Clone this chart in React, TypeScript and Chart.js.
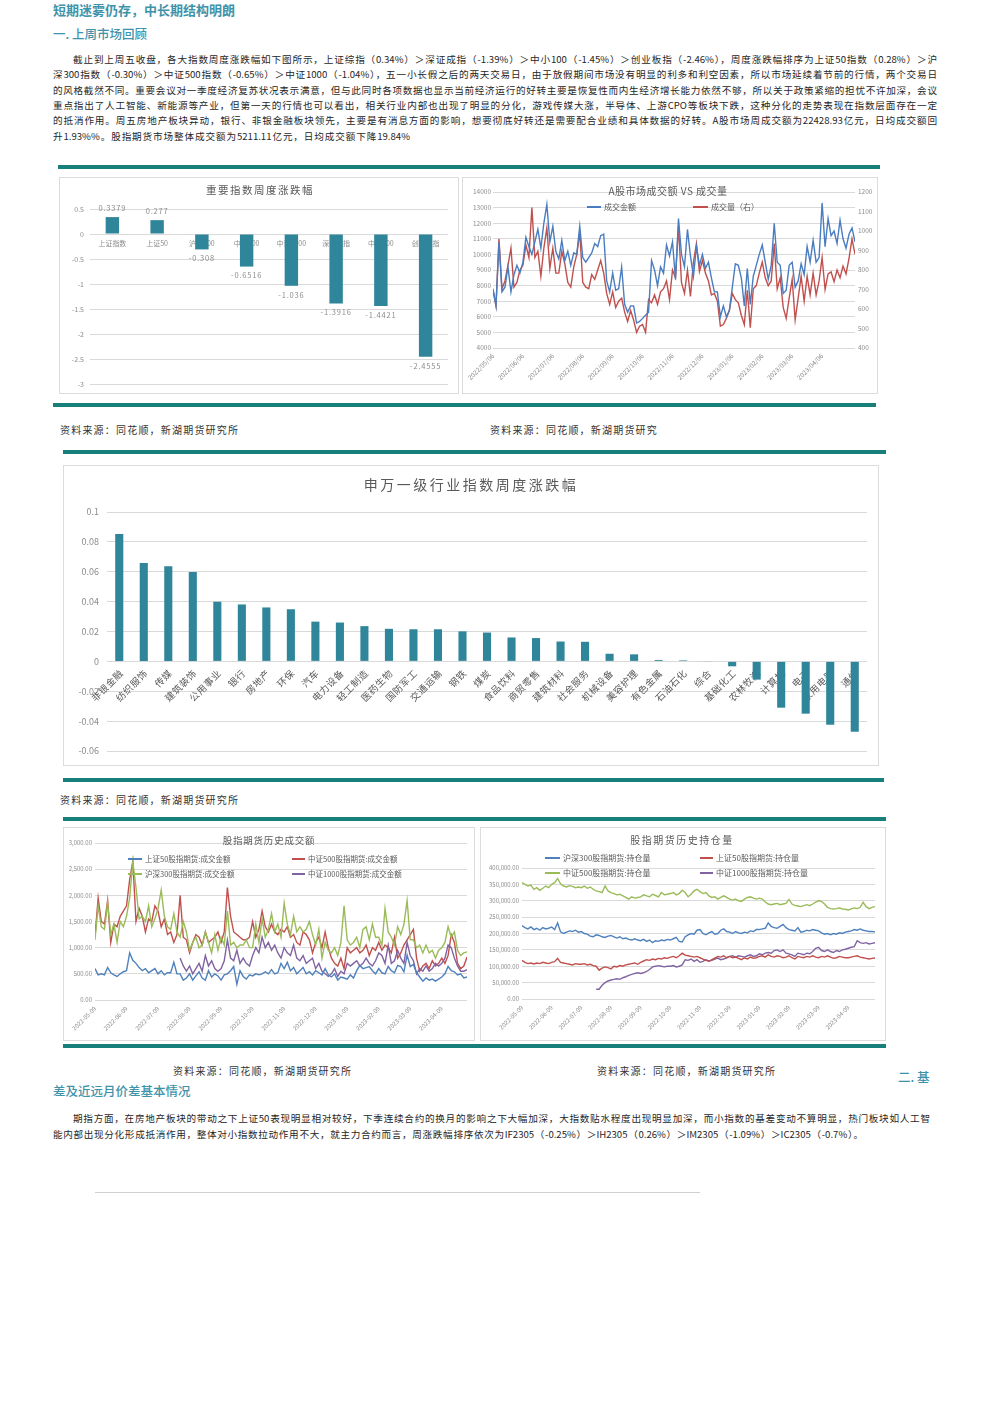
import React, { useEffect, useRef } from 'react';
import { Chart, registerables } from 'chart.js';
Chart.register(...registerables);

const FONT = '"Noto Sans CJK SC", "Noto Sans", sans-serif';
const TEAL = '#17807b';
const HEAD = '#3e93aa';
const BAR = '#2f8599';
const GRID = '#d9d9d9';
const TICK = '#8c8c8c';
const LAB = '#595959';

// ---------- Chart 1: 重要指数周度涨跌幅 ----------
const idxCats = ['上证指数', '上证50', '沪深300', '中证500', '中证1000', '深证成指', '中小100', '创业板指'];
const idxVals = [0.3379, 0.277, -0.308, -0.6516, -1.036, -1.3916, -1.4421, -2.4555];

// ---------- Chart 2: A股市场成交额 VS 成交量 ----------
const aTickLabels = ['2022/05/06', '2022/06/06', '2022/07/06', '2022/08/06', '2022/09/06', '2022/10/06', '2022/11/06', '2022/12/06', '2023/01/06', '2023/02/06', '2023/03/06', '2023/04/06'];
const aTickPos = [0, 10, 20, 30, 40, 50, 60, 70, 80, 90, 100, 110];
const aAmount = [
  7800, 6700, 10800, 7600, 7900, 9200, 7600, 8700, 9300, 8800,
  9500, 11100, 10500, 10000, 10800, 11600, 10400, 12000, 13200, 10800,
  11800, 10200, 9700, 10900, 9600, 10200, 9300, 10100, 10000, 11800,
  9800, 9500, 9800, 10100, 10700, 10500, 11200, 11300, 8300, 7600,
  8800, 7700, 7800, 9200, 6800, 6300, 6700, 6700, 5600, 5700,
  5900, 6100, 6300, 9600, 9000, 8000, 9200, 8800, 10600, 9900,
  10800, 8400, 12300, 10000, 9200, 11600, 9900, 8600, 10500, 9300,
  10000, 9100, 9500, 8500, 7600, 7600, 6000, 6700, 6000, 6400,
  7900, 9400, 9300, 8500, 6700, 9100, 6800, 8600, 9300, 10000,
  10600, 9500, 8400, 9300, 12000, 9500, 9300, 7500, 7700, 9300,
  9500, 7900, 8300, 9400, 8700, 10500, 9500, 10900, 9500, 9800,
  13300, 10500, 12300, 11200, 11500, 10700, 12200, 11000, 10400, 11300,
  11700, 10800,
];
const aVolume = [
  696, 616, 960, 704, 744, 824, 912, 712, 736, 800,
  824, 928, 864, 1120, 864, 896, 768, 912, 1016, 808,
  912, 784, 784, 896, 832, 736, 712, 816, 880, 992,
  736, 712, 704, 776, 752, 800, 848, 784, 680, 624,
  688, 608, 640, 656, 584, 536, 592, 544, 480, 512,
  520, 480, 648, 632, 672, 624, 688, 704, 744, 648,
  800, 760, 1024, 736, 680, 800, 664, 840, 936, 792,
  848, 784, 744, 672, 680, 640, 512, 520, 552, 592,
  680, 648, 632, 568, 520, 696, 504, 704, 720, 784,
  840, 760, 720, 744, 936, 704, 760, 608, 552, 656,
  752, 544, 656, 768, 640, 768, 672, 784, 672, 744,
  864, 700, 780, 790, 740, 800, 760, 820, 780, 860,
  960, 880,
];

// ---------- Chart 3: 申万一级行业指数周度涨跌幅 ----------
const swCats = ['非银金融', '纺织服饰', '传媒', '建筑装饰', '公用事业', '银行', '房地产', '环保', '汽车', '电力设备', '轻工制造', '医药生物', '国防军工', '交通运输', '钢铁', '煤炭', '食品饮料', '商贸零售', '建筑材料', '社会服务', '机械设备', '美容护理', '有色金属', '石油石化', '综合', '基础化工', '农林牧渔', '计算机', '电子', '家用电器', '通信'];
const swVals = [0.0853, 0.0659, 0.0637, 0.0599, 0.0399, 0.0381, 0.0361, 0.0349, 0.0266, 0.026, 0.0236, 0.0218, 0.0215, 0.0215, 0.0201, 0.0193, 0.016, 0.0156, 0.0133, 0.0131, 0.0051, 0.0047, 0.0009, 0.0007, -0.0004, -0.0033, -0.0122, -0.031, -0.035, -0.0424, -0.0471];

// ---------- Chart 4: 股指期货历史成交额 ----------
const fTickLabels = ['2022-05-09', '2022-06-09', '2022-07-09', '2022-08-09', '2022-09-09', '2022-10-09', '2022-11-09', '2022-12-09', '2023-01-09', '2023-02-09', '2023-03-09', '2023-04-09'];
const fTickPos = [0, 10, 20, 30, 40, 50, 60, 70, 80, 90, 100, 110];
const amtIH = [
  600, 480, 500, 480, 620, 520, 480, 450, 500, 540,
  560, 900, 760, 700, 620, 560, 600, 520, 560, 600,
  500, 560, 480, 520, 520, 720, 500, 500, 380, 420,
  500, 380, 460, 540, 420, 380, 560, 440, 500, 460,
  380, 480, 500, 560, 640, 300, 560, 450, 400, 480,
  460, 500, 480, 500, 540, 500, 580, 500, 520, 700,
  600, 720, 560, 620, 500, 560, 620, 500, 540, 480,
  560, 520, 480, 600, 480, 440, 500, 380, 440, 420,
  400, 480, 420, 560, 660, 600, 620, 640, 560, 500,
  600, 520, 500, 640, 560, 520, 660, 640, 540, 860,
  640, 680, 520, 440, 360, 420, 380, 400, 360, 400,
  440, 500, 640, 560, 540, 480, 500, 420, 440,
];
const amtIC = [
  1220, 1950, 1500, 1450, 1900, 1100, 1450, 1400, 1600, 1700,
  1800, 2300, 2650, 1500, 1750, 1600, 1300, 1550, 1500, 1800,
  1700, 1400, 1550, 1250, 1300, 1100, 1250, 2000, 1200, 1150,
  900, 1100, 1250, 1200, 1050, 1300, 1100, 1150, 1200, 1300,
  1100, 1300, 2150, 1600, 1300, 1250, 1200, 1150, 1150, 1200,
  1500, 1200, 1350, 1700, 1400, 1300, 1450, 1300, 1250, 1350,
  1300, 1400, 1200, 1250, 1100, 1050, 1300, 1250, 1150, 900,
  1100, 1200, 1000, 1300, 1000, 800, 700, 650, 800, 600,
  1000, 900, 950, 1000, 900, 950, 1050, 850, 1000, 950,
  1100, 950, 1050, 1000, 900, 1200, 800, 900, 1050, 1150,
  1250, 1350, 800, 550, 650, 700, 600, 750, 650, 700,
  800, 700, 850, 1250, 1100, 700, 600, 650, 820,
];
const amtIF = [
  1150, 1800, 1400, 1350, 1850, 1250, 1450, 1100, 1500, 1400,
  1600, 1950, 2650, 2150, 1550, 1600, 1500, 1800, 1400, 1550,
  1750, 2100, 1600, 1400, 1350, 1650, 1300, 1200, 1500, 1300,
  950, 1100, 1200, 1000, 1050, 1300, 1100, 900, 1250, 950,
  1200, 1050, 1700, 1050, 1100, 1000, 1050, 1050, 1150, 1000,
  1000, 1450, 1100, 1550, 1200, 1350, 1650, 1300, 1450, 1200,
  1850, 1450, 1250, 1600, 1300, 1400, 1300, 1350, 1500, 1250,
  1050, 1350, 800, 1100, 950, 900, 1000, 850, 1100, 1800,
  1150, 1050, 1100, 1200, 1000, 1350, 1400, 1150, 1450, 1200,
  1200, 1050, 1750, 1300, 1200, 1050, 1400, 1250, 1450, 1900,
  1150, 1150, 1000, 1050, 900, 1050, 900, 950, 800, 950,
  1000, 1100, 1400, 1200, 1300, 950, 850, 900, 920,
];
const amtIM = [
  null, null, null, null, null, null, null, null, null, null,
  null, null, null, null, null, null, null, null, null, null,
  null, null, null, null, null, null, null, 800, 650, 550,
  650, 500, 600, 700, 550, 850, 650, 750, 600, 550,
  600, 750, 1150, 800, 750, 950, 700, 800, 700, 650,
  850, 1000, 900, 1200, 1000, 1100, 950, 1050, 900, 800,
  1000, 900, 850, 1050, 800, 750, 850, 700, 750, 800,
  600, 700, 550, 500, 450, 500, 600, 450, 550, 500,
  700, 650, 700, 750, 650, 700, 800, 700, 650, 750,
  900, 850, 700, 1050, 700, 750, 950, 800, 700, 1100,
  850, 750, 500, 600, 550, 650, 550, 600, 700, 650,
  700, 800, 1050, 1000, 800, 650, 550, 550, 580,
];

// ---------- Chart 5: 股指期货历史持仓量 (千手) ----------
const oiIF = [
  224, 218, 214, 220, 212, 216, 210, 218, 214, 216,
  220, 212, 232, 205, 200, 204, 208, 206, 210, 204,
  206, 200, 198, 192, 190, 196, 194, 190, 188, 192,
  194, 190, 186, 190, 184, 186, 182, 180, 184, 180,
  178, 182, 176, 180, 172, 178, 176, 180, 178, 182,
  180, 184, 188, 176, 174, 190, 196, 200, 198, 210,
  212, 200, 196, 202, 206, 198, 200, 210, 214, 206,
  204, 200, 206, 202, 200, 204, 202, 208, 206, 212,
  212, 214, 216, 232, 222, 218, 216, 222, 228, 218,
  212, 210, 208, 218, 204, 206, 210, 208, 212, 210,
  208, 202, 198, 200, 196, 200, 198, 202, 200, 204,
  206, 208, 212, 210, 214, 210, 208, 206, 206, 205,
];
const oiIH = [
  118, 112, 108, 110, 107, 110, 108, 112, 110, 108,
  112, 114, 124, 112, 110, 108, 106, 104, 108, 106,
  106, 108, 104, 106, 102, 100, 88, 94, 98, 96,
  92, 100, 98, 102, 100, 104, 106, 108, 110, 106,
  112, 116, 120, 118, 122, 120, 124, 122, 126, 124,
  128, 130, 126, 132, 140, 134, 132, 130, 128, 130,
  126, 122, 118, 115, 120, 125, 130, 128, 132, 126,
  130, 126, 128, 124, 120, 126, 122, 128, 124, 126,
  130, 132, 128, 135, 130, 128, 132, 130, 126, 128,
  132, 126, 122, 130, 128, 126, 130, 128, 132, 128,
  126, 130, 128, 132, 128, 124, 126, 130, 128, 126,
  126, 128, 130, 132, 128, 126, 124, 122, 124, 125,
];
const oiIC = [
  355, 350, 345, 348, 335, 340, 332, 338, 345, 340,
  350, 355, 368, 352, 345, 342, 346, 344, 340, 342,
  340, 345, 338, 342, 335, 330, 328, 325, 345, 330,
  325, 322, 318, 320, 315, 310, 305, 312, 308, 310,
  312, 318, 315, 312, 320, 316, 312, 325, 318, 320,
  322, 325, 318, 322, 332, 325, 312, 320, 330, 335,
  328, 322, 325, 315, 310, 312, 305, 310, 315, 310,
  305, 302, 305, 300, 298, 305, 310, 312, 308, 305,
  308, 305, 296, 290, 288, 290, 292, 288, 290, 292,
  304, 290, 286, 284, 282, 285, 288, 285, 290, 296,
  300, 298, 290, 280, 276, 275, 276, 278, 275, 274,
  272, 275, 278, 276, 280, 295, 282, 276, 280, 282,
];
const oiIM = [
  null, null, null, null, null, null, null, null, null, null,
  null, null, null, null, null, null, null, null, null, null,
  null, null, null, null, null, 30, 30, 42, 50, 55,
  58, 60, 62, 60, 65, 68, 72, 75, 78, 80,
  78, 80, 84, 90, 98, 100, 102, 100, 98, 100,
  100, 102, 98, 100, 104, 120, 118, 122, 115, 120,
  112, 115, 120, 116, 118, 122, 125, 120, 122, 126,
  130, 132, 128, 132, 130, 128, 132, 135, 130, 132,
  138, 135, 140, 142, 140, 148, 150, 145, 150, 140,
  138, 135, 130, 140, 138, 135, 140, 138, 145, 155,
  158, 148, 145, 150, 145, 142, 148, 145, 150, 152,
  155, 158, 160, 178, 172, 170, 172, 168, 170, 172,
];

// ---------- helpers ----------
const cleanNum = (v: any) => String(+Number(v).toFixed(4));
const fmt2 = (v: number) => v.toLocaleString('en-US', { minimumFractionDigits: 2, maximumFractionDigits: 2 });
const pts = (arr: (number | null)[]) => arr.map((v, i) => ({ x: i, y: v }));

type TItem = { text: string; x: number; y: number; size: number; color?: string; spacing?: number; align?: CanvasTextAlign };
type LItem = { text: string; color: string; x1: number; x2: number; y: number; size: number };

function overlayPlugin(titles: TItem[], legends: LItem[]) {
  return {
    id: 'overlay',
    afterDraw(chart: any) {
      const ctx = chart.ctx as CanvasRenderingContext2D;
      ctx.save();
      ctx.textBaseline = 'middle';
      for (const t of titles) {
        ctx.font = `${t.size}px ${FONT}`;
        (ctx as any).letterSpacing = `${t.spacing ?? 0}px`;
        ctx.fillStyle = t.color ?? LAB;
        ctx.textAlign = t.align ?? 'center';
        ctx.fillText(t.text, t.x, t.y);
      }
      (ctx as any).letterSpacing = '0px';
      for (const l of legends) {
        ctx.strokeStyle = l.color;
        ctx.lineWidth = 2;
        ctx.beginPath();
        ctx.moveTo(l.x1, l.y);
        ctx.lineTo(l.x2, l.y);
        ctx.stroke();
        ctx.font = `${l.size}px ${FONT}`;
        ctx.fillStyle = LAB;
        ctx.textAlign = 'left';
        ctx.fillText(l.text, l.x2 + 3, l.y);
      }
      ctx.restore();
    },
  };
}

function timeXAxis(tickPos: number[], tickLabels: string[], n: number, height: number, size: number, pad: number) {
  return {
    type: 'linear',
    min: 0,
    max: n - 1,
    afterBuildTicks: (s: any) => { s.ticks = tickPos.map((v) => ({ value: v })); },
    ticks: {
      autoSkip: false, maxRotation: 45, minRotation: 45, padding: pad,
      color: TICK, font: { size, family: FONT },
      callback: (v: any) => { const k = tickPos.indexOf(v); return k >= 0 ? tickLabels[k] : ''; },
    },
    grid: { display: false, drawTicks: false },
    border: { display: false },
    afterFit: (s: any) => { s.height = height; s.paddingLeft = 0; s.paddingRight = 0; },
  };
}

function yAxis(min: number, max: number, step: number, width: number, pad: number, size: number, cb: (v: any) => string, extra: any = {}) {
  return {
    min, max,
    ticks: { stepSize: step, padding: pad, color: TICK, font: { size, family: FONT }, callback: cb },
    grid: { color: GRID, drawTicks: false },
    border: { display: false },
    afterFit: (s: any) => { s.width = width; s.paddingTop = 0; s.paddingBottom = 0; },
    ...extra,
  };
}

const base = { responsive: false, animation: false, devicePixelRatio: 1 };

// ---------- chart configs ----------
function makeIdx() {
  const catPlugin = {
    id: 'idxLabels',
    beforeDatasetsDraw(chart: any) {
      const { ctx } = chart; const xs = chart.scales.x; const ys = chart.scales.y;
      const y0 = ys.getPixelForValue(0);
      ctx.save();
      ctx.font = `7px ${FONT}`; ctx.fillStyle = TICK; ctx.textAlign = 'center'; ctx.textBaseline = 'middle';
      idxCats.forEach((c, i) => ctx.fillText(c, xs.getPixelForValue(i), y0 + 9));
      ctx.restore();
    },
    afterDatasetsDraw(chart: any) {
      const { ctx } = chart; const meta = chart.getDatasetMeta(0);
      ctx.save();
      ctx.font = `7.5px ${FONT}`; ctx.fillStyle = TICK; ctx.textAlign = 'center'; ctx.textBaseline = 'middle';
      (ctx as any).letterSpacing = '0.8px';
      meta.data.forEach((bar: any, i: number) => {
        const v = idxVals[i];
        ctx.fillText(String(v), bar.x, v >= 0 ? bar.y - 9 : bar.y + 9);
      });
      ctx.restore();
    },
  };
  return {
    type: 'bar',
    data: { labels: idxCats, datasets: [{ data: idxVals, backgroundColor: BAR, barPercentage: 0.3, categoryPercentage: 1 }] },
    options: {
      ...base,
      layout: { padding: { left: 0, right: 11, top: 32, bottom: 10 } },
      plugins: { legend: { display: false }, tooltip: { enabled: false } },
      scales: {
        x: { display: false },
        y: yAxis(-3, 0.5, 0.5, 31, 6, 7, cleanNum),
      },
    },
    plugins: [catPlugin, overlayPlugin([{ text: '重要指数周度涨跌幅', x: 201, y: 13, size: 10.5, spacing: 1.5 }], [])],
  };
}

function makeAshare() {
  return {
    type: 'line',
    data: {
      datasets: [
        { label: '成交金额', data: pts(aAmount), borderColor: '#4a7dc0', borderWidth: 1.4, pointRadius: 0, tension: 0, yAxisID: 'y' },
        { label: '成交量（右）', data: pts(aVolume), borderColor: '#c0504d', borderWidth: 1.4, pointRadius: 0, tension: 0, yAxisID: 'y1' },
      ],
    },
    options: {
      ...base,
      layout: { padding: { left: 0, right: 0, top: 15, bottom: 2 } },
      plugins: { legend: { display: false }, tooltip: { enabled: false } },
      scales: {
        x: timeXAxis(aTickPos, aTickLabels, aAmount.length, 44, 6.5, 4),
        y: yAxis(4000, 14000, 1000, 31, 2, 6.5, (v) => String(v), { position: 'left' }),
        y1: yAxis(400, 1200, 100, 23, 3, 6.5, (v) => String(v), { position: 'right', grid: { display: false, drawTicks: false } }),
      },
    },
    plugins: [overlayPlugin(
      [{ text: 'A股市场成交额 VS 成交量', x: 206, y: 14, size: 10, spacing: 0.5 }],
      [
        { text: '成交金额', color: '#4a7dc0', x1: 125, x2: 139, y: 30, size: 8 },
        { text: '成交量（右）', color: '#c0504d', x1: 231, x2: 246, y: 30, size: 8 },
      ],
    )],
  };
}

function makeSw() {
  const catPlugin = {
    id: 'swLabels',
    beforeDatasetsDraw(chart: any) {
      const { ctx } = chart; const xs = chart.scales.x; const ys = chart.scales.y;
      const y0 = ys.getPixelForValue(0);
      ctx.save();
      ctx.font = `9.5px ${FONT}`; ctx.fillStyle = LAB; ctx.textAlign = 'right'; ctx.textBaseline = 'middle';
      (ctx as any).letterSpacing = '0.5px';
      swCats.forEach((c, i) => {
        ctx.save();
        ctx.translate(xs.getPixelForValue(i) + 2, y0 + 10);
        ctx.rotate(-Math.PI / 4);
        ctx.fillText(c, 0, 0);
        ctx.restore();
      });
      ctx.restore();
    },
  };
  return {
    type: 'bar',
    data: { labels: swCats, datasets: [{ data: swVals, backgroundColor: BAR, barPercentage: 0.33, categoryPercentage: 1 }] },
    options: {
      ...base,
      layout: { padding: { left: 0, right: 12, top: 47, bottom: 15 } },
      plugins: { legend: { display: false }, tooltip: { enabled: false } },
      scales: {
        x: { display: false },
        y: yAxis(-0.06, 0.1, 0.02, 44, 8, 9, cleanNum),
      },
    },
    plugins: [catPlugin, overlayPlugin([{ text: '申万一级行业指数周度涨跌幅', x: 408, y: 20, size: 14, spacing: 2.5 }], [])],
  };
}

const C_BLUE = '#4f81bd', C_RED = '#c0504d', C_GREEN = '#9bbb59', C_PURPLE = '#8064a2';
const lineDs = (label: string, arr: (number | null)[], color: string) => ({ label, data: pts(arr), borderColor: color, borderWidth: 1.4, pointRadius: 0, tension: 0, spanGaps: false });

function makeAmt() {
  return {
    type: 'line',
    data: {
      datasets: [
        lineDs('上证50股指期货:成交金额', amtIH, C_BLUE),
        lineDs('中证1000股指期货:成交金额', amtIM, C_PURPLE),
        lineDs('沪深300股指期货:成交金额', amtIF, C_GREEN),
        lineDs('中证500股指期货:成交金额', amtIC, C_RED),
      ],
    },
    options: {
      ...base,
      layout: { padding: { left: 0, right: 8, top: 16, bottom: 2 } },
      plugins: { legend: { display: false }, tooltip: { enabled: false } },
      scales: {
        x: timeXAxis(fTickPos, fTickLabels, amtIH.length, 39, 6, 5),
        y: yAxis(0, 3000, 500, 32, 3, 6, (v) => fmt2(v)),
      },
    },
    plugins: [overlayPlugin(
      [{ text: '股指期货历史成交额', x: 206, y: 13, size: 9.5, spacing: 0.8 }],
      [
        { text: '上证50股指期货:成交金额', color: C_BLUE, x1: 65, x2: 79, y: 32, size: 7.5 },
        { text: '中证500股指期货:成交金额', color: C_RED, x1: 229, x2: 242, y: 32, size: 7.5 },
        { text: '沪深300股指期货:成交金额', color: C_GREEN, x1: 65, x2: 79, y: 47, size: 7.5 },
        { text: '中证1000股指期货:成交金额', color: C_PURPLE, x1: 229, x2: 242, y: 47, size: 7.5 },
      ],
    )],
  };
}

function makeOi() {
  return {
    type: 'line',
    data: {
      datasets: [
        lineDs('沪深300股指期货:持仓量', oiIF, C_BLUE),
        lineDs('上证50股指期货:持仓量', oiIH, C_RED),
        lineDs('中证500股指期货:持仓量', oiIC, C_GREEN),
        lineDs('中证1000股指期货:持仓量', oiIM, C_PURPLE),
      ],
    },
    options: {
      ...base,
      layout: { padding: { left: 0, right: 11, top: 41, bottom: 2 } },
      plugins: { legend: { display: false }, tooltip: { enabled: false } },
      scales: {
        x: timeXAxis(fTickPos, fTickLabels, oiIF.length, 40, 6, 5),
        y: yAxis(0, 400, 50, 42, 3, 6, (v) => fmt2(v * 1000)),
      },
    },
    plugins: [overlayPlugin(
      [{ text: '股指期货历史持仓量', x: 202, y: 13, size: 10, spacing: 1.5 }],
      [
        { text: '沪深300股指期货:持仓量', color: C_BLUE, x1: 65, x2: 80, y: 31, size: 8 },
        { text: '上证50股指期货:持仓量', color: C_RED, x1: 220, x2: 233, y: 31, size: 8 },
        { text: '中证500股指期货:持仓量', color: C_GREEN, x1: 65, x2: 80, y: 46, size: 8 },
        { text: '中证1000股指期货:持仓量', color: C_PURPLE, x1: 220, x2: 233, y: 46, size: 8 },
      ],
    )],
  };
}

// ---------- components ----------
function ChartBox({ x, y, w, h, make }: { x: number; y: number; w: number; h: number; make: () => any }) {
  const ref = useRef<HTMLCanvasElement>(null);
  useEffect(() => {
    const chart = new Chart(ref.current as HTMLCanvasElement, make());
    return () => chart.destroy();
  }, []);
  return (
    <>
      <canvas ref={ref} width={w} height={h} style={{ position: 'absolute', left: x, top: y, width: w, height: h, background: '#fff' }} />
      <div style={{ position: 'absolute', left: x, top: y, width: w, height: h, border: '1px solid #dcdcdc', boxSizing: 'border-box', pointerEvents: 'none' }} />
    </>
  );
}

const TealBar = ({ x1, x2, y }: { x1: number; x2: number; y: number }) => (
  <div style={{ position: 'absolute', left: x1, top: y, width: x2 - x1, height: 4, background: TEAL }} />
);

const Line = ({ x, y, w, text, justify = true }: { x: number; y: number; w: number; text: string; justify?: boolean }) => (
  <div style={{
    position: 'absolute', left: x, top: y - 8, width: w, height: 16, lineHeight: '16px', fontSize: 9.6,
    color: '#262626', textAlign: justify ? 'justify' : 'left', textAlignLast: justify ? 'justify' : 'left',
    overflow: 'hidden', fontFamily: FONT,
  } as any}>{text}</div>
);

const Source = ({ x, y, text }: { x: number; y: number; text: string }) => (
  <div style={{ position: 'absolute', left: x, top: y - 7, height: 14, lineHeight: '14px', fontSize: 10, letterSpacing: 1.2, color: '#333', whiteSpace: 'nowrap', fontFamily: FONT }}>{text}</div>
);

const Head = ({ x, y, text, size = 12.5, bold = false }: { x: number; y: number; text: string; size?: number; bold?: boolean }) => (
  <div style={{ position: 'absolute', left: x, top: y - 9, height: 18, lineHeight: '18px', fontSize: size, fontWeight: bold ? 700 : 500, color: HEAD, whiteSpace: 'nowrap', fontFamily: FONT }}>{text}</div>
);

const para1 = [
  '截止到上周五收盘，各大指数周度涨跌幅如下图所示，上证综指（0.34%）＞深证成指（-1.39%）＞中小100（-1.45%）＞创业板指（-2.46%），周度涨跌幅排序为上证50指数（0.28%）＞沪',
  '深300指数（-0.30%）＞中证500指数（-0.65%）＞中证1000（-1.04%），五一小长假之后的两天交易日，由于放假期间市场没有明显的利多和利空因素，所以市场延续着节前的行情，两个交易日',
  '的风格截然不同。重要会议对一季度经济复苏状况表示满意，但与此同时各项数据也显示当前经济运行的好转主要是恢复性而内生经济增长能力依然不够，所以关于政策紧缩的担忧不许加深，会议',
  '重点指出了人工智能、新能源等产业，但第一天的行情也可以看出，相关行业内部也出现了明显的分化，游戏传媒大涨，半导体、上游CPO等板块下跌，这种分化的走势表现在指数层面存在一定',
  '的抵消作用。周五房地产板块异动，银行、非银金融板块领先，主要是有消息方面的影响，想要彻底好转还是需要配合业绩和具体数据的好转。A股市场周成交额为22428.93亿元，日均成交额回',
  '升1.93%%。股指期货市场整体成交额为5211.11亿元，日均成交额下降19.84%',
];
const para2 = [
  '期指方面，在房地产板块的带动之下上证50表现明显相对较好，下季连续合约的换月的影响之下大幅加深，大指数贴水程度出现明显加深，而小指数的基差变动不算明显，热门板块如人工智',
  '能内部出现分化形成抵消作用，整体对小指数拉动作用不大，就主力合约而言，周涨跌幅排序依次为IF2305（-0.25%）＞IH2305（0.26%）＞IM2305（-1.09%）＞IC2305（-0.7%）。',
];
const SRC = '资料来源：同花顺，新湖期货研究所';

export default function App() {
  useEffect(() => { document.body.style.margin = '0'; }, []);
  return (
    <div style={{ position: 'absolute', left: 0, top: 0, width: 992, height: 1403, background: '#fff', overflow: 'hidden', fontFamily: FONT }}>
      <Head x={53} y={10} text="短期迷雾仍存，中长期结构明朗" size={13} bold />
      <Head x={53} y={34} text="一. 上周市场回顾" />
      <Line x={73} y={59} w={864} text={para1[0]} />
      <Line x={53} y={74.3} w={884} text={para1[1]} />
      <Line x={53} y={89.6} w={884} text={para1[2]} />
      <Line x={53} y={104.9} w={884} text={para1[3]} />
      <Line x={53} y={120.2} w={884} text={para1[4]} />
      <Line x={53} y={135.5} w={357} text={para1[5]} />

      <TealBar x1={58} x2={880} y={165} />
      <ChartBox x={59} y={177} w={400} h={217} make={makeIdx} />
      <ChartBox x={462} y={177} w={416} h={217} make={makeAshare} />
      <TealBar x1={53} x2={876} y={403} />
      <Source x={60} y={430} text={SRC} />
      <Source x={490} y={430} text="资料来源：同花顺，新湖期货研究" />
      <TealBar x1={63} x2={886} y={450} />

      <ChartBox x={63} y={465} w={816} h={301} make={makeSw} />
      <TealBar x1={63} x2={884} y={778} />
      <Source x={60} y={800} text={SRC} />
      <TealBar x1={63} x2={886} y={817} />

      <ChartBox x={63} y={827} w={412} h={214} make={makeAmt} />
      <ChartBox x={480} y={827} w={406} h={214} make={makeOi} />
      <TealBar x1={63} x2={886} y={1044} />
      <Source x={173} y={1071} text={SRC} />
      <Source x={597} y={1071} text={SRC} />
      <Head x={898} y={1077} text="二. 基" />
      <Head x={53} y={1091} text="差及近远月价差基本情况" />
      <Line x={73} y={1118} w={857} text={para2[0]} />
      <Line x={53} y={1134} w={810} text={para2[1]} />
      <div style={{ position: 'absolute', left: 95, top: 1192, width: 605, height: 1, background: '#d0d0d0' }} />
    </div>
  );
}
